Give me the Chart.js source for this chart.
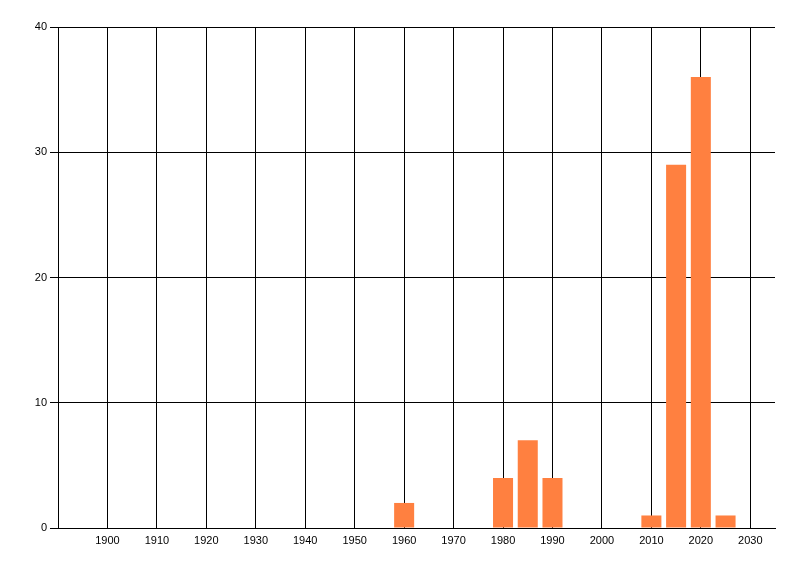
<!DOCTYPE html>
<html>
<head>
<meta charset="utf-8">
<script src="https://cdn.jsdelivr.net/npm/chart.js@4/dist/chart.umd.min.js"></script>
<style>
  html, body { margin: 0; padding: 0; background: #fff; }
  #wrap { width: 800px; height: 576px; }
</style>
</head>
<body>
<div id="wrap"><canvas id="chart"></canvas></div>
<script>
const years = [1960, 1980, 1985, 1990, 2010, 2015, 2020, 2025];
const counts = [2, 4, 7, 4, 1, 29, 36, 1];
const xTicks = [1900, 1910, 1920, 1930, 1940, 1950, 1960, 1970, 1980, 1990, 2000, 2010, 2020, 2030];
const yTicks = [0, 10, 20, 30, 40];

const font = { family: 'Liberation Sans', size: 11 };

const initChart = () => {
    const canvas = document.getElementById('chart');
    new Chart(canvas, {
        type: 'bar',
        data: {
            datasets: [
                {
                    data: years.map((y, i) => ({ x: y, y: counts[i] })),
                    backgroundColor: '#FF8040',
                    barPercentage: 0.81,
                    categoryPercentage: 1,
                },
            ],
        },
        options: {
            responsive: true,
            maintainAspectRatio: false,
            animation: false,
            layout: { padding: { left: 0, top: 27, right: 25, bottom: 0 } },
            plugins: {
                legend: { display: false },
                tooltip: { enabled: false },
            },
            scales: {
                x: {
                    type: 'linear',
                    offset: false,
                    min: 1890,
                    max: 2035,
                    afterBuildTicks: (scale) => {
                        scale.ticks = xTicks.map((v) => ({ value: v }));
                    },
                    afterFit: (scale) => { scale.height = 48; },
                    ticks: {
                        color: '#000',
                        font,
                        padding: 6,
                        maxRotation: 0,
                        autoSkip: false,
                        callback: (v) => String(v),
                    },
                    grid: { color: '#000', lineWidth: 1, drawTicks: false, offset: false },
                    border: { color: '#000', width: 1 },
                },
                y: {
                    min: 0,
                    max: 40,
                    afterBuildTicks: (scale) => {
                        scale.ticks = yTicks.map((v) => ({ value: v }));
                    },
                    afterFit: (scale) => { scale.width = 58; },
                    ticks: { color: '#000', font, padding: 3 },
                    grid: { color: '#000', lineWidth: 1, drawTicks: true, tickLength: 8 },
                    border: { color: '#000', width: 1 },
                },
            },
        },
    });
};

initChart();
</script>
</body>
</html>
